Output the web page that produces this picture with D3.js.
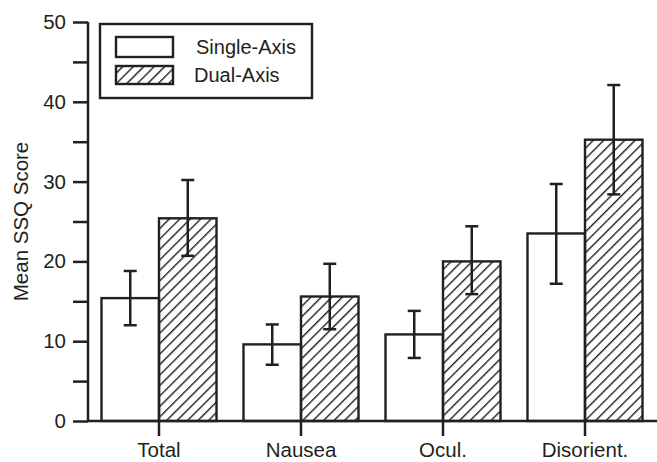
<!DOCTYPE html>
<html>
<head>
<meta charset="utf-8">
<script src="https://cdn.jsdelivr.net/npm/d3@7"></script>
<style>
  body { margin: 0; background: #fff; }
  text { font-family: "Liberation Sans", Arial, sans-serif; fill: #231f20; }
</style>
</head>
<body>
<div class="container"></div>
<script>
const categories = ["Total", "Nausea", "Ocul.", "Disorient."];
const seriesNames = ["Single-Axis", "Dual-Axis"];
const singleMean = [15.4, 9.6, 10.85, 23.5];
const singleErrLo = [12.0, 7.05, 7.9, 17.2];
const singleErrHi = [18.8, 12.1, 13.8, 29.7];
const dualMean = [25.4, 15.6, 20.0, 35.25];
const dualErrLo = [20.7, 11.5, 15.9, 28.4];
const dualErrHi = [30.2, 19.7, 24.4, 42.1];
const yTicks = [0, 10, 20, 30, 40, 50];
const yMinorTicks = [5, 15, 25, 35, 45];

const WIDTH = 657;
const HEIGHT = 462;
const INK = "#231f20";
const FONT = '"Liberation Sans", Arial, sans-serif';

var svg = d3.select('.container').append('svg')
    .attr('width', WIDTH)
    .attr('height', HEIGHT);

var defs = svg.append('defs');
defs.append('pattern')
    .attr('id', 'hatch')
    .attr('patternUnits', 'userSpaceOnUse')
    .attr('width', 7.4)
    .attr('height', 7.4)
    .attr('patternTransform', 'rotate(45)')
  .append('line')
    .attr('x1', 0).attr('y1', 0)
    .attr('x2', 0).attr('y2', 7.4)
    .attr('stroke', INK)
    .attr('stroke-width', 2.8);

var xScale = d3.scaleBand()
    .domain(categories)
    .range([88, 656]);

var yScale = d3.scaleLinear()
    .domain([0, 50])
    .range([421, 22]);

var barW = xScale.bandwidth() * 0.405;
var center = function (c) { return xScale(c) + xScale.bandwidth() / 2; };

var rows = categories.map(function (c, i) {
    return [
        {cat: c, s: 0, mean: singleMean[i], lo: singleErrLo[i], hi: singleErrHi[i]},
        {cat: c, s: 1, mean: dualMean[i], lo: dualErrLo[i], hi: dualErrHi[i]}
    ];
}).flat();

// bars
svg.append('g').selectAll('rect')
    .data(rows)
    .enter()
    .append('rect')
    .attr('x', function (d) { return d.s === 0 ? center(d.cat) - barW : center(d.cat); })
    .attr('y', function (d) { return yScale(d.mean); })
    .attr('width', barW)
    .attr('height', function (d) { return yScale(0) - yScale(d.mean); })
    .attr('fill', function (d) { return d.s === 0 ? '#fff' : 'url(#hatch)'; })
    .attr('stroke', INK)
    .attr('stroke-width', 2.4);

// error bars
var eb = svg.append('g').attr('stroke', INK).attr('stroke-width', 2.5);
rows.forEach(function (d) {
    var cx = d.s === 0 ? center(d.cat) - barW / 2 : center(d.cat) + barW / 2;
    eb.append('line').attr('x1', cx).attr('x2', cx)
        .attr('y1', yScale(d.lo)).attr('y2', yScale(d.hi));
    [d.lo, d.hi].forEach(function (v) {
        eb.append('line').attr('x1', cx - 6.5).attr('x2', cx + 6.5)
            .attr('y1', yScale(v)).attr('y2', yScale(v));
    });
});

// y axis
var yAxis = svg.append('g')
    .attr('transform', 'translate(88,0)')
    .call(d3.axisLeft(yScale).tickValues(yTicks).tickSize(15).tickPadding(7));
svg.append('g')
    .attr('transform', 'translate(88,0)')
    .call(d3.axisLeft(yScale).tickValues(yMinorTicks).tickSize(15).tickFormat(''))
    .select('.domain').remove();
svg.selectAll('.tick line').attr('stroke', INK).attr('stroke-width', 2.5);
yAxis.select('.domain').attr('stroke', INK).attr('stroke-width', 2.5)
    .attr('d', 'M0,' + yScale(50) + 'V' + yScale(0));
yAxis.selectAll('text').attr('font-size', 20.5).attr('fill', INK)
    .attr('font-family', FONT);

// x axis
var xAxis = svg.append('g')
    .attr('transform', 'translate(0,' + yScale(0) + ')')
    .call(d3.axisBottom(xScale).tickSize(15).tickPadding(6));
xAxis.select('.domain').attr('stroke', INK).attr('stroke-width', 2.5)
    .attr('d', 'M88,0H657');
xAxis.selectAll('.tick line').attr('stroke', INK).attr('stroke-width', 2.5);
xAxis.selectAll('text').attr('font-size', 20.5).attr('fill', INK)
    .attr('font-family', FONT);

// y title
svg.append('text')
    .attr('transform', 'translate(28,' + yScale(25) + ') rotate(-90)')
    .attr('text-anchor', 'middle')
    .attr('font-size', 20.5)
    .text('Mean SSQ Score');

// legend
var lg = svg.append('g');
lg.append('rect')
    .attr('x', 100).attr('y', 24).attr('width', 212).attr('height', 74)
    .attr('fill', '#fff').attr('stroke', INK).attr('stroke-width', 2.4);
seriesNames.forEach(function (name, i) {
    var y = i === 0 ? 37 : 66;
    lg.append('rect')
        .attr('x', 116).attr('y', y).attr('width', 57).attr('height', i === 0 ? 20 : 18)
        .attr('fill', i === 0 ? '#fff' : 'url(#hatch)')
        .attr('stroke', INK).attr('stroke-width', 2.4);
    lg.append('text')
        .attr('x', i === 0 ? 196 : 194)
        .attr('y', y + (i === 0 ? 17 : 16))
        .attr('font-size', 20)
        .text(name);
});
</script>
</body>
</html>
